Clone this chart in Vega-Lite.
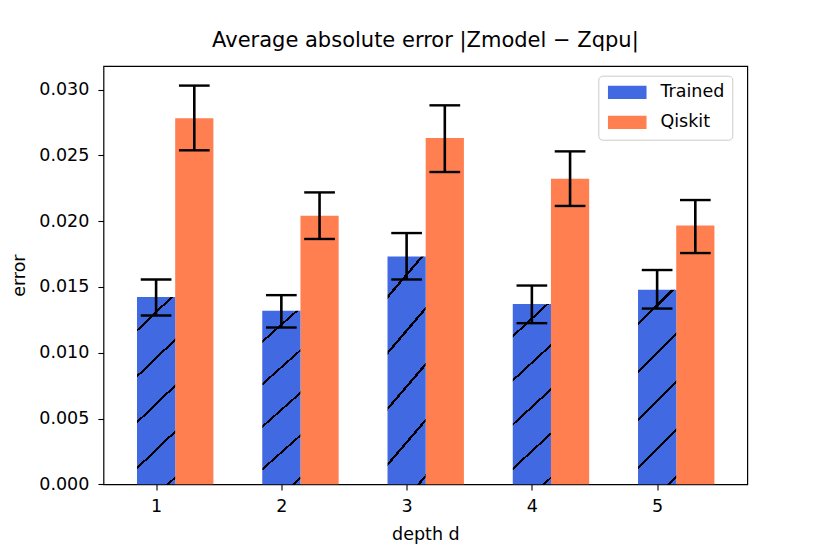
{
  "$schema": "https://vega.github.io/schema/vega-lite/v6.json",
  "autosize": {"type": "none"},
  "padding": {"left": 103.5, "top": 66, "right": 82.7, "bottom": 69.7},
  "width": 643.8,
  "height": 418.3,
  "background": "white",
  "view": {"stroke": "black", "strokeWidth": 1.2},
  "title": {
    "text": "Average absolute error |Zmodel − Zqpu|",
    "frame": "group",
    "anchor": "middle",
    "baseline": "alphabetic",
    "offset": -2,
    "font": "DejaVu Sans",
    "fontSize": 21,
    "fontWeight": "normal",
    "color": "black"
  },
  "config": {
    "font": "DejaVu Sans",
    "axis": {
      "domain": false,
      "grid": false,
      "tickColor": "black",
      "tickWidth": 1.1,
      "tickSize": 5.6,
      "labelColor": "black",
      "labelFont": "DejaVu Sans",
      "labelFontSize": 17.5,
      "titleColor": "black",
      "titleFont": "DejaVu Sans",
      "titleFontSize": 17.5,
      "titleFontWeight": "normal"
    },
    "legend": {
      "labelFont": "DejaVu Sans",
      "labelFontSize": 17.5,
      "labelColor": "black"
    }
  },
  "data": {
    "values": [
      {"d": 1, "method": "Trained", "value": 0.01423, "lo": 0.01283, "hi": 0.01557},
      {"d": 1, "method": "Qiskit", "value": 0.02782, "lo": 0.02539, "hi": 0.03031},
      {"d": 2, "method": "Trained", "value": 0.01319, "lo": 0.01192, "hi": 0.01438},
      {"d": 2, "method": "Qiskit", "value": 0.02042, "lo": 0.01865, "hi": 0.02219},
      {"d": 3, "method": "Trained", "value": 0.01732, "lo": 0.01557, "hi": 0.0191},
      {"d": 3, "method": "Qiskit", "value": 0.02633, "lo": 0.02374, "hi": 0.02881},
      {"d": 4, "method": "Trained", "value": 0.0137, "lo": 0.01225, "hi": 0.01511},
      {"d": 4, "method": "Qiskit", "value": 0.02323, "lo": 0.02116, "hi": 0.02531},
      {"d": 5, "method": "Trained", "value": 0.01479, "lo": 0.01336, "hi": 0.01629},
      {"d": 5, "method": "Qiskit", "value": 0.01968, "lo": 0.01758, "hi": 0.02161}
    ]
  },
  "encoding": {
    "x": {
      "field": "d",
      "type": "quantitative",
      "title": "depth d",
      "scale": {"domain": [0.62, 5.68], "nice": false, "zero": false},
      "axis": {"values": [1, 2, 3, 4, 5], "format": "d", "labelPadding": 8, "titlePadding": 10}
    }
  },
  "layer": [
    {
      "transform": [{"filter": "datum.method == 'Qiskit'"}],
      "mark": {"type": "bar", "width": 38.2, "xOffset": 38.2},
      "encoding": {
        "y": {
          "field": "value",
          "type": "quantitative",
          "title": "error",
          "scale": {"domain": [0, 0.0318], "nice": false},
          "axis": {
            "values": [0, 0.005, 0.01, 0.015, 0.02, 0.025, 0.03],
            "format": ".3f",
            "labelPadding": 9,
            "titlePadding": 10
          }
        },
        "color": {
          "field": "method",
          "type": "nominal",
          "scale": {"domain": ["Trained", "Qiskit"], "range": ["#4169e1", "#ff7f50"]},
          "legend": {
            "title": null,
            "orient": "none",
            "legendX": 494.8,
            "legendY": 9.7,
            "padding": 8,
            "rowPadding": 11,
            "strokeColor": "#cccccc",
            "fillColor": "rgba(255,255,255,0.8)",
            "cornerRadius": 4,
            "symbolType": "M-2.9,-1L2.9,-1L2.9,1L-2.9,1Z",
            "symbolSize": 177,
            "symbolOffset": 12.2,
            "symbolStrokeWidth": 0,
            "symbolOpacity": 1,
            "labelOffset": 24.4
          }
        }
      }
    },
    {
      "transform": [{"filter": "datum.method == 'Trained'"}],
      "mark": {
        "type": "bar",
        "width": 38.2,
        "fill": {
          "gradient": "linear",
          "x1": 0, "y1": 0, "x2": 0.2258, "y2": 1.152,
          "stops": [
            {"offset": 0, "color": "#4169e1"},
            {"offset": 0.1425, "color": "#4169e1"},
            {"offset": 0.1425, "color": "black"},
            {"offset": 0.1555, "color": "black"},
            {"offset": 0.1555, "color": "#4169e1"},
            {"offset": 0.3475, "color": "#4169e1"},
            {"offset": 0.3475, "color": "black"},
            {"offset": 0.3605, "color": "black"},
            {"offset": 0.3605, "color": "#4169e1"},
            {"offset": 0.5525, "color": "#4169e1"},
            {"offset": 0.5525, "color": "black"},
            {"offset": 0.5655, "color": "black"},
            {"offset": 0.5655, "color": "#4169e1"},
            {"offset": 0.7575, "color": "#4169e1"},
            {"offset": 0.7575, "color": "black"},
            {"offset": 0.7705, "color": "black"},
            {"offset": 0.7705, "color": "#4169e1"},
            {"offset": 0.9625, "color": "#4169e1"},
            {"offset": 0.9625, "color": "black"},
            {"offset": 0.9755, "color": "black"},
            {"offset": 0.9755, "color": "#4169e1"},
            {"offset": 1, "color": "#4169e1"}
          ]
        }
      },
      "encoding": {
        "y": {"field": "value", "type": "quantitative"}
      }
    },
    {
      "transform": [{"filter": "datum.method == 'Trained'"}],
      "mark": {"type": "rule", "color": "black", "strokeWidth": 2.6},
      "encoding": {
        "y": {"field": "lo", "type": "quantitative"},
        "y2": {"field": "hi"}
      }
    },
    {
      "transform": [{"filter": "datum.method == 'Qiskit'"}],
      "mark": {"type": "rule", "color": "black", "strokeWidth": 2.6, "xOffset": 38.2},
      "encoding": {
        "y": {"field": "lo", "type": "quantitative"},
        "y2": {"field": "hi"}
      }
    },
    {
      "transform": [{"filter": "datum.method == 'Trained'"}],
      "mark": {"type": "tick", "orient": "horizontal", "color": "black", "size": 30.7, "thickness": 2.4, "opacity": 1},
      "encoding": {"y": {"field": "lo", "type": "quantitative"}}
    },
    {
      "transform": [{"filter": "datum.method == 'Trained'"}],
      "mark": {"type": "tick", "orient": "horizontal", "color": "black", "size": 30.7, "thickness": 2.4, "opacity": 1},
      "encoding": {"y": {"field": "hi", "type": "quantitative"}}
    },
    {
      "transform": [{"filter": "datum.method == 'Qiskit'"}],
      "mark": {"type": "tick", "orient": "horizontal", "color": "black", "size": 30.7, "thickness": 2.4, "opacity": 1, "xOffset": 38.2},
      "encoding": {"y": {"field": "lo", "type": "quantitative"}}
    },
    {
      "transform": [{"filter": "datum.method == 'Qiskit'"}],
      "mark": {"type": "tick", "orient": "horizontal", "color": "black", "size": 30.7, "thickness": 2.4, "opacity": 1, "xOffset": 38.2},
      "encoding": {"y": {"field": "hi", "type": "quantitative"}}
    }
  ]
}
